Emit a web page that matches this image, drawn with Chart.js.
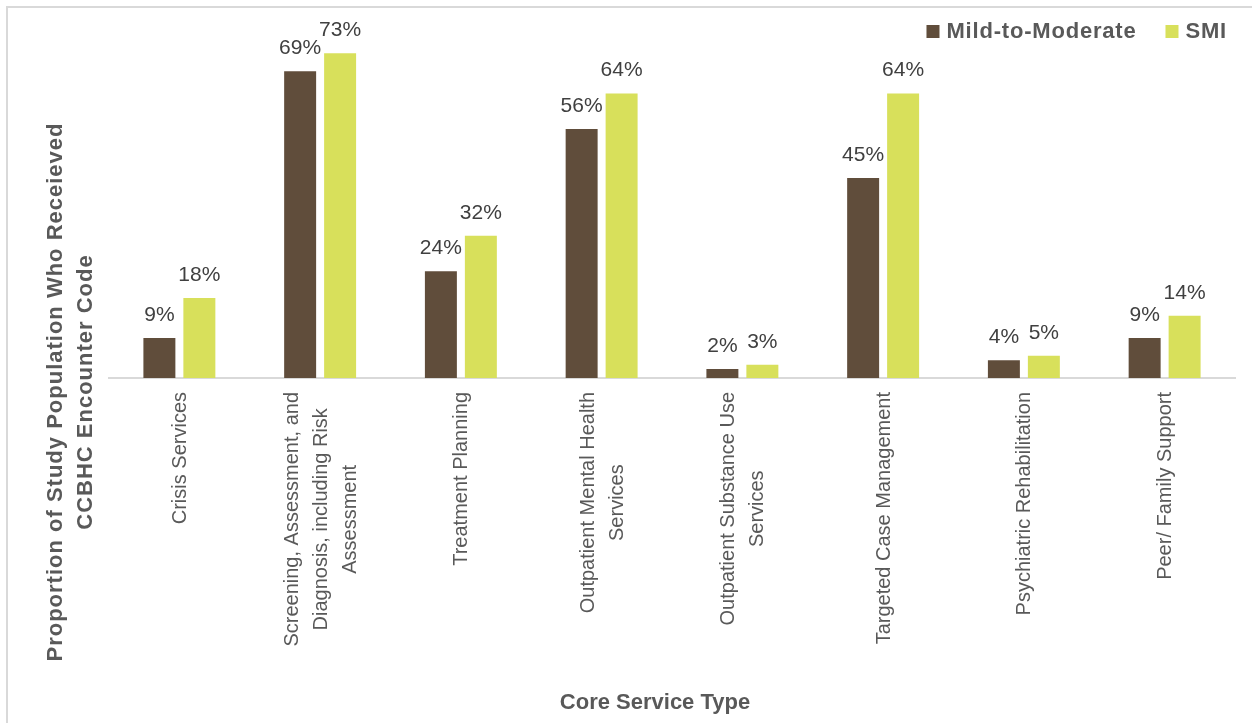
<!DOCTYPE html>
<html>
<head>
<meta charset="utf-8">
<script src="https://cdn.jsdelivr.net/npm/chart.js"></script>
<style>
  html, body { margin: 0; padding: 0; background: #fff; overflow: hidden; }
  #frame { position: absolute; left: 6px; top: 6px; width: 1300px; height: 800px;
           border-left: 2px solid #d9d9d9; border-top: 2px solid #d9d9d9; }
  canvas { position: absolute; left: 0; top: 0; }
</style>
</head>
<body>
<div id="frame"></div>
<canvas id="myChart" width="1252" height="723"></canvas>
<script>
const categories = [
  ['Crisis Services'],
  ['Screening, Assessment, and', 'Diagnosis, including Risk', 'Assessment'],
  ['Treatment Planning'],
  ['Outpatient Mental Health', 'Services'],
  ['Outpatient Substance Use', 'Services'],
  ['Targeted Case Management'],
  ['Psychiatric Rehabilitation'],
  ['Peer/ Family Support'],
];
const mildToModerate = [9, 69, 24, 56, 2, 45, 4, 9];
const smi = [18, 73, 32, 64, 3, 64, 5, 14];

const FONT = '"Liberation Sans", Arial, sans-serif';
Chart.defaults.font.family = FONT;

// percent labels above every bar
const dataLabels = {
  id: 'dataLabels',
  afterDatasetsDraw(chart) {
    const ctx = chart.ctx;
    ctx.save();
    ctx.font = '21px ' + FONT;
    ctx.fillStyle = '#404040';
    ctx.textAlign = 'center';
    ctx.textBaseline = 'alphabetic';
    chart.data.datasets.forEach((ds, i) => {
      chart.getDatasetMeta(i).data.forEach((bar, j) => {
        ctx.fillText(ds.data[j] + '%', bar.x, bar.y - 17);
      });
    });
    ctx.restore();
  }
};

// rotated category labels, lines centred like the original
const tickLabels = {
  id: 'tickLabels',
  afterDraw(chart) {
    const ctx = chart.ctx;
    const x = chart.scales.x;
    ctx.save();
    ctx.font = '20px ' + FONT;
    ctx.fillStyle = '#595959';
    ctx.textAlign = 'center';
    ctx.textBaseline = 'middle';
    categories.forEach((lines, i) => {
      const px = x.getPixelForTick(i);
      const w = Math.max(...lines.map(l => ctx.measureText(l).width));
      ctx.save();
      ctx.translate(px + 1, x.top + 14);
      ctx.rotate(-Math.PI / 2);
      lines.forEach((l, k) => {
        ctx.fillText(l, -w / 2, (k - (lines.length - 1) / 2) * 29);
      });
      ctx.restore();
    });
    ctx.restore();
  }
};

// axis titles
const axisTitles = {
  id: 'axisTitles',
  afterDraw(chart) {
    const ctx = chart.ctx;
    ctx.save();
    ctx.font = 'bold 22px ' + FONT;
    ctx.fillStyle = '#595959';
    ctx.textAlign = 'center';
    ctx.textBaseline = 'middle';
    ctx.fillText('Core Service Type', 655, 703);
    ctx.letterSpacing = '1px';
    ctx.translate(71, 392);
    ctx.rotate(-Math.PI / 2);
    ctx.fillText('Proportion of Study Population Who Receieved', 0, -15);
    ctx.fillText('CCBHC Encounter Code', 0, 15);
    ctx.restore();
  }
};

// legend in the top right corner
const legendBox = {
  id: 'legendBox',
  afterDraw(chart) {
    const ctx = chart.ctx;
    ctx.save();
    ctx.font = 'bold 22px ' + FONT;
    ctx.letterSpacing = '0.8px';
    ctx.textBaseline = 'middle';
    ctx.textAlign = 'left';
    let right = chart.chartArea.right - 8;
    const items = chart.data.datasets.slice().reverse();
    items.forEach((ds) => {
      const w = ctx.measureText(ds.label).width;
      const tx = right - w;
      const bx = tx - 7 - 13;
      ctx.fillStyle = ds.backgroundColor;
      ctx.fillRect(bx, 25, 13, 13);
      ctx.fillStyle = '#595959';
      ctx.fillText(ds.label, tx, 32);
      right = bx - 29;
    });
    ctx.restore();
  }
};

const chartData = {
  labels: categories,
  datasets: [{
    label: 'Mild-to-Moderate',
    backgroundColor: '#604D3B',
    data: mildToModerate,
  }, {
    label: 'SMI',
    backgroundColor: '#D8E05B',
    data: smi,
  }]
};

const config = {
  type: 'bar',
  data: chartData,
  options: {
    responsive: false,
    animation: false,
    devicePixelRatio: 1,
    categoryPercentage: 0.568,
    barPercentage: 0.8,
    layout: { padding: { left: 109, right: 17, top: 0, bottom: 0 } },
    plugins: {
      tooltip: { enabled: false },
      legend: { display: false }
    },
    scales: {
      x: {
        grid: { display: false },
        border: { color: '#d9d9d9', width: 2 },
        ticks: { display: false },
        afterFit: (scale) => { scale.height = 345; }
      },
      y: {
        display: false,
        min: 0,
        max: 85,
      }
    }
  },
  plugins: [dataLabels, tickLabels, axisTitles, legendBox]
};

const myChart = new Chart(document.getElementById('myChart'), config);
</script>
</body>
</html>
